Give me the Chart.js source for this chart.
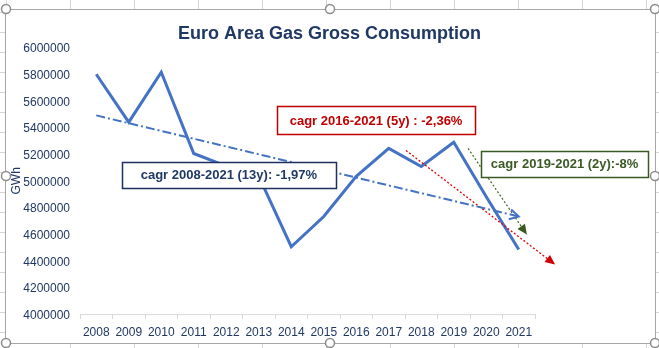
<!DOCTYPE html>
<html><head><meta charset="utf-8">
<script src="https://cdn.jsdelivr.net/npm/chart.js@4/dist/chart.umd.min.js"></script>
<style>html,body{margin:0;padding:0;background:#fff;}canvas{display:block;}</style>
</head><body>
<canvas id="c" width="659" height="348"></canvas>
<script>
// ---- data ----
const years = ['2008','2009','2010','2011','2012','2013','2014','2015','2016','2017','2018','2019','2020','2021'];
const consumption = [5800000, 5440000, 5815000, 5205000, 5110000, 5035000, 4505000, 4732000, 5033000, 5243000, 5107000, 5289000, 4880000, 4484000];
const yTickValues = [4000000, 4200000, 4400000, 4600000, 4800000, 5000000, 5200000, 5400000, 5600000, 5800000, 6000000];
// annotation arrows (x as fractional category index, y in GWh)
const trend13X = [0, 13];
const trend13Y = [5491000, 4732000];
const trend5X = [9.53, 14.12];
const trend5Y = [5228000, 4371000];
const trend2X = [11.44, 13.25];
const trend2Y = [5243000, 4596000];
// annotation labels
const noteTexts = ['cagr 2008-2021 (13y): -1,97%', 'cagr 2016-2021 (5y) : -2,36%', 'cagr 2019-2021 (2y):-8%'];
const noteX = [4.08, 8.61, 14.41];
const noteY = [5047000, 5453000, 5123000];

const NAVY = '#1F3864';
const BLUE = '#4472C4';
const RED = '#C00000';
const GREEN = '#3A5A24';
const noteColors = [NAVY, RED, GREEN];
const noteBorders = ['#1F2F5F', RED, GREEN];
const noteSizes = [[214, 26], [198, 28], [167, 26]];

const toPts = (xs, ys) => xs.map((x, i) => ({x: x, y: ys[i]}));

Chart.defaults.font.family = "'Liberation Sans', Arial, sans-serif";

const sheetPlugin = {
  id: 'sheet',
  beforeDraw(chart) {
    const ctx = chart.ctx, W = chart.width, H = chart.height;
    ctx.save();
    ctx.fillStyle = '#fff';
    ctx.fillRect(0, 0, W, H);
    ctx.strokeStyle = '#D4D4D4';
    ctx.lineWidth = 1;
    ctx.beginPath();
    for (let y = 12; y < H; y += 20) {
      ctx.moveTo(0, y + 0.5); ctx.lineTo(5, y + 0.5);
      ctx.moveTo(656, y + 0.5); ctx.lineTo(W, y + 0.5);
    }
    for (let x = 6; x < W; x += 64) {
      ctx.moveTo(x + 0.5, 0); ctx.lineTo(x + 0.5, 9);
      ctx.moveTo(x + 0.5, 343); ctx.lineTo(x + 0.5, H);
    }
    ctx.stroke();
    ctx.strokeStyle = '#A6A6A6';
    ctx.strokeRect(5.5, 9.5, 650, 334);
    ctx.restore();
  },
  afterDraw(chart) {
    const ctx = chart.ctx;
    ctx.save();
    const hx = [6, 330, 655], hy = [9, 176, 343];
    ctx.lineWidth = 1.5;
    ctx.strokeStyle = '#8C8C8C';
    ctx.fillStyle = '#fff';
    hx.forEach((x, i) => hy.forEach((y, j) => {
      if (i === 1 && j === 1) return;
      ctx.beginPath(); ctx.arc(x, y, 4.5, 0, Math.PI * 2); ctx.fill(); ctx.stroke();
    }));
    ctx.restore();
  }
};

const arrowPlugin = {
  id: 'arrows',
  afterDatasetsDraw(chart) {
    const ctx = chart.ctx;
    chart.data.datasets.forEach((ds, i) => {
      if (!ds.arrow) return;
      const meta = chart.getDatasetMeta(i);
      const n = meta.data.length;
      const a = meta.data[n - 2], b = meta.data[n - 1];
      const ang = Math.atan2(b.y - a.y, b.x - a.x);
      const L = ds.arrowLen, Wd = ds.arrowWidth;
      ctx.save();
      ctx.translate(b.x, b.y);
      ctx.rotate(ang);
      ctx.beginPath();
      ctx.moveTo(-L, -Wd / 2);
      ctx.lineTo(0, 0);
      ctx.lineTo(-L, Wd / 2);
      if (ds.arrow === 'open') {
        ctx.strokeStyle = ds.borderColor; ctx.lineWidth = 2; ctx.setLineDash([]);
        ctx.stroke();
      } else {
        ctx.closePath(); ctx.fillStyle = ds.arrowColor || ds.borderColor; ctx.fill();
      }
      ctx.restore();
    });
  }
};

const notesPlugin = {
  id: 'notes',
  afterDraw(chart) {
    const ctx = chart.ctx;
    const xs = chart.scales.x2, ys = chart.scales.y;
    ctx.save();
    noteTexts.forEach((t, i) => {
      const cx = xs.getPixelForValue(noteX[i]);
      const cy = ys.getPixelForValue(noteY[i]);
      const [w, h] = noteSizes[i];
      const l = Math.round(cx - w / 2) + 0.5, tp = Math.round(cy - h / 2) + 0.5;
      ctx.fillStyle = '#fff';
      ctx.fillRect(l, tp, w, h);
      ctx.strokeStyle = noteBorders[i];
      ctx.lineWidth = 1.5;
      ctx.strokeRect(l, tp, w, h);
      ctx.fillStyle = noteColors[i];
      ctx.font = "bold 13px 'Liberation Sans', Arial, sans-serif";
      ctx.textAlign = 'center';
      ctx.textBaseline = 'middle';
      ctx.fillText(t, cx, cy + 0.5);
    });
    ctx.restore();
  }
};

new Chart(document.getElementById('c'), {
  type: 'line',
  data: {
    labels: years,
    datasets: [
      {
        label: 'Consumption', data: consumption, borderColor: BLUE, borderWidth: 3,
        pointRadius: 0, tension: 0, order: 10, xAxisID: 'x', yAxisID: 'y'
      },
      {
        label: 'trend13', data: toPts(trend13X, trend13Y), borderColor: BLUE, borderWidth: 2,
        borderDash: [9, 3, 2, 3], pointRadius: 0, xAxisID: 'x2', yAxisID: 'y', order: 1,
        arrow: 'open', arrowLen: 9, arrowWidth: 10, clip: false
      },
      {
        label: 'trend5', data: toPts(trend5X, trend5Y), borderColor: '#E00000', borderWidth: 1.3,
        borderDash: [2, 2], pointRadius: 0, xAxisID: 'x2', yAxisID: 'y', order: 1,
        arrow: 'filled', arrowLen: 10, arrowWidth: 9, arrowColor: '#D00000', clip: false
      },
      {
        label: 'trend2', data: toPts(trend2X, trend2Y), borderColor: '#4F7030', borderWidth: 1.3,
        borderDash: [2, 2], pointRadius: 0, xAxisID: 'x2', yAxisID: 'y', order: 1,
        arrow: 'filled', arrowLen: 10, arrowWidth: 9, arrowColor: '#3A5A1E', clip: false
      }
    ]
  },
  options: {
    responsive: false,
    devicePixelRatio: 1,
    animation: false,
    events: [],
    layout: { padding: { left: 0, right: 0, top: 0, bottom: 0 } },
    plugins: {
      legend: { display: false },
      tooltip: { enabled: false },
      title: {
        display: true, text: 'Euro Area Gas Gross Consumption', color: NAVY,
        font: { size: 18, weight: 'bold' }, padding: { top: 23, bottom: 3 }
      }
    },
    scales: {
      x: {
        type: 'category', offset: true,
        grid: { offset: true, drawOnChartArea: false, color: '#D9D9D9', tickLength: 5 },
        border: { color: '#D9D9D9' },
        ticks: { color: NAVY, font: { size: 12 }, padding: 6, maxRotation: 0, autoSkip: false },
        afterFit(s) { s.height = 34; }
      },
      x2: { type: 'linear', min: -0.5, max: 13.5, display: false },
      y: {
        type: 'linear', min: 4000000, max: 6000000,
        grid: { display: false, drawTicks: false },
        border: { display: false },
        afterBuildTicks(s) { s.ticks = yTickValues.map(v => ({ value: v })); },
        ticks: { color: NAVY, font: { size: 12 }, padding: 10, labelOffset: 1.5, callback: v => String(v) },
        title: { display: true, text: 'GWh', color: NAVY, font: { size: 12 }, padding: { top: 9, bottom: 0 } },
        afterFit(s) { s.width = 80; }
      },
      yR: {
        type: 'linear', position: 'right', display: true,
        grid: { display: false, drawTicks: false }, border: { display: false },
        ticks: { display: false },
        afterFit(s) { s.width = 124; }
      }
    }
  },
  plugins: [sheetPlugin, arrowPlugin, notesPlugin]
});
</script>
</body></html>
